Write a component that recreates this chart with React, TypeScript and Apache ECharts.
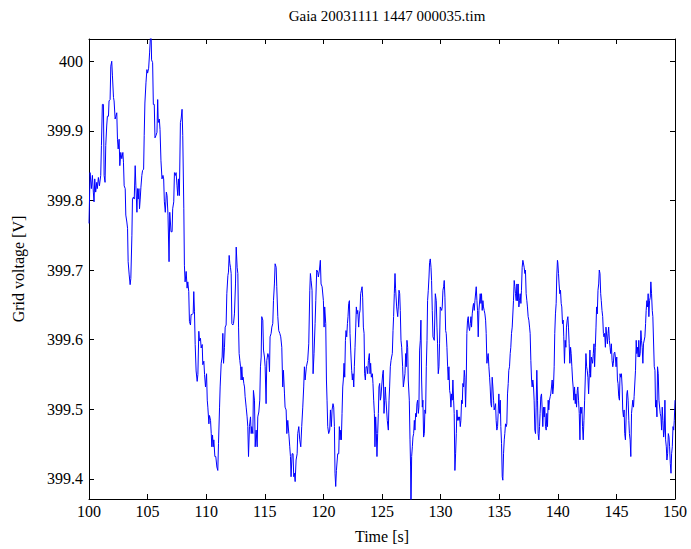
import React, { useEffect, useRef } from "react";
import * as echarts from "echarts";

const titleText = "Gaia 20031111 1447 000035.tim";
const xName = "Time [s]";
const yName = "Grid voltage [V]";
const xTicks = [100, 105, 110, 115, 120, 125, 130, 135, 140, 145, 150];
const yTicks = [399.4, 399.5, 399.6, 399.7, 399.8, 399.9, 400];

const seg100to110: number[][] = [
  [100.00, 399.767], [100.09, 399.840], [100.20, 399.817], [100.29, 399.836], [100.37, 399.812], [100.43, 399.798],
  [100.49, 399.831], [100.57, 399.812], [100.66, 399.826], [100.71, 399.817], [100.80, 399.833], [100.89, 399.821],
  [101.00, 399.836], [101.06, 399.879], [101.14, 399.938], [101.23, 399.938], [101.29, 399.836], [101.37, 399.826],
  [101.43, 399.879], [101.51, 399.907], [101.57, 399.921], [101.66, 399.921], [101.71, 399.943], [101.80, 399.945],
  [101.86, 399.993], [101.94, 400.000], [102.00, 399.979], [102.09, 399.948], [102.14, 399.943], [102.23, 399.917],
  [102.29, 399.921], [102.37, 399.926], [102.43, 399.888], [102.49, 399.874], [102.57, 399.888], [102.63, 399.850],
  [102.71, 399.869], [102.80, 399.860], [102.89, 399.869], [102.94, 399.855], [103.00, 399.821], [103.09, 399.817],
  [103.14, 399.779], [103.23, 399.769], [103.29, 399.760], [103.34, 399.712], [103.43, 399.693], [103.51, 399.679],
  [103.57, 399.688], [103.66, 399.750], [103.71, 399.802], [103.80, 399.805], [103.86, 399.802], [103.94, 399.850],
  [104.00, 399.821], [104.09, 399.783], [104.14, 399.817], [104.20, 399.802], [104.26, 399.817], [104.31, 399.788],
  [104.37, 399.802], [104.43, 399.819], [104.51, 399.836], [104.57, 399.843], [104.66, 399.845], [104.71, 399.893],
  [104.77, 399.940], [104.86, 399.969], [104.94, 399.988], [105.00, 399.983], [105.09, 399.990], [105.17, 400.012],
  [105.23, 400.031], [105.29, 400.050], [105.34, 400.002], [105.43, 399.998], [105.49, 399.938], [105.57, 399.938],
  [105.63, 399.890], [105.71, 399.893], [105.80, 399.898], [105.86, 399.945], [105.91, 399.912], [106.00, 399.917],
  [106.06, 399.902], [106.14, 399.857], [106.23, 399.831], [106.31, 399.836], [106.37, 399.831], [106.43, 399.798],
  [106.51, 399.783], [106.60, 399.812], [106.66, 399.807], [106.74, 399.779], [106.83, 399.712], [106.89, 399.783],
  [107.00, 399.755], [107.09, 399.755], [107.14, 399.788], [107.23, 399.798], [107.29, 399.840], [107.37, 399.836],
  [107.43, 399.840], [107.51, 399.821], [107.57, 399.807], [107.63, 399.831], [107.71, 399.807], [107.80, 399.912],
  [107.86, 399.917], [107.94, 399.931], [108.00, 399.893], [108.09, 399.788], [108.14, 399.707], [108.20, 399.683],
  [108.29, 399.698], [108.37, 399.674], [108.43, 399.683], [108.51, 399.669], [108.57, 399.626], [108.66, 399.621],
  [108.71, 399.636], [108.80, 399.636], [108.89, 399.638], [108.94, 399.669], [109.00, 399.640], [109.06, 399.593],
  [109.14, 399.555], [109.23, 399.540], [109.29, 399.550], [109.37, 399.612], [109.43, 399.598], [109.51, 399.602],
  [109.57, 399.588], [109.66, 399.593], [109.71, 399.564], [109.80, 399.569], [109.86, 399.550],
  [109.94, 399.532], [110.03, 399.551], [110.09, 399.513], [110.14, 399.503], [110.23, 399.479], [110.28, 399.491],
  [110.37, 399.484], [110.43, 399.465], [110.48, 399.446], [110.54, 399.463], [110.60, 399.446], [110.65, 399.456],
  [110.74, 399.432], [110.82, 399.432], [110.91, 399.417], [110.99, 399.412],
];

const seg111to120: number[][] = [
  [111.05, 399.451], [111.14, 399.503], [111.19, 399.532], [111.28, 399.566], [111.36, 399.575], [111.42, 399.609],
  [111.48, 399.566], [111.56, 399.589], [111.62, 399.618], [111.70, 399.621], [111.76, 399.666], [111.85, 399.692],
  [111.90, 399.697], [111.96, 399.721], [112.02, 399.709], [112.07, 399.704], [112.13, 399.695], [112.19, 399.623],
  [112.27, 399.621], [112.33, 399.623], [112.41, 399.637], [112.50, 399.680], [112.56, 399.733], [112.64, 399.704],
  [112.70, 399.695], [112.76, 399.618], [112.81, 399.580], [112.87, 399.570], [112.93, 399.561], [112.98, 399.542],
  [113.04, 399.561], [113.10, 399.542], [113.15, 399.546], [113.21, 399.537], [113.27, 399.532], [113.32, 399.518],
  [113.41, 399.503], [113.49, 399.489], [113.55, 399.475], [113.61, 399.432], [113.69, 399.475], [113.78, 399.489],
  [113.84, 399.465], [113.89, 399.475], [113.98, 399.465], [114.03, 399.527], [114.12, 399.513], [114.18, 399.446],
  [114.26, 399.470], [114.35, 399.446], [114.40, 399.489], [114.49, 399.496], [114.57, 399.513], [114.63, 399.561],
  [114.69, 399.575], [114.74, 399.633], [114.83, 399.628], [114.89, 399.585], [114.97, 399.575], [115.03, 399.561],
  [115.11, 399.508], [115.17, 399.570], [115.26, 399.580], [115.34, 399.575], [115.40, 399.554], [115.45, 399.604],
  [115.54, 399.609], [115.60, 399.618], [115.68, 399.623], [115.74, 399.656], [115.82, 399.680], [115.88, 399.709],
  [115.97, 399.704], [116.02, 399.676], [116.11, 399.633], [116.19, 399.613], [116.28, 399.609], [116.36, 399.604],
  [116.45, 399.589], [116.53, 399.532], [116.59, 399.556], [116.68, 399.522], [116.73, 399.503], [116.82, 399.499],
  [116.88, 399.465], [116.96, 399.484], [117.05, 399.465], [117.13, 399.446], [117.19, 399.432], [117.24, 399.403],
  [117.33, 399.436], [117.41, 399.436], [117.47, 399.403], [117.53, 399.408], [117.59, 399.396], [117.67, 399.427],
  [117.76, 399.436], [117.81, 399.465], [117.90, 399.475], [117.98, 399.456], [118.07, 399.446], [118.15, 399.475],
  [118.24, 399.503], [118.32, 399.532], [118.38, 399.561], [118.44, 399.542], [118.49, 399.542], [118.55, 399.561],
  [118.66, 399.570], [118.75, 399.594], [118.84, 399.671], [118.89, 399.695], [118.95, 399.685], [119.03, 399.671],
  [119.12, 399.551], [119.20, 399.580], [119.29, 399.623], [119.35, 399.656], [119.43, 399.700], [119.52, 399.697],
  [119.57, 399.690], [119.66, 399.700], [119.74, 399.714], [119.80, 399.680], [119.89, 399.676],
];

const seg120to130: number[][] = [
  [120.00, 399.656], [120.06, 399.618], [120.11, 399.647], [120.20, 399.623], [120.26, 399.542], [120.31, 399.513],
  [120.37, 399.475], [120.45, 399.465], [120.54, 399.470], [120.60, 399.499], [120.68, 399.475], [120.74, 399.499],
  [120.82, 399.508], [120.88, 399.503], [120.94, 399.475], [120.99, 399.408], [121.05, 399.389], [121.11, 399.412],
  [121.16, 399.412], [121.22, 399.436], [121.31, 399.436], [121.36, 399.475], [121.42, 399.456], [121.48, 399.470],
  [121.53, 399.456], [121.59, 399.494], [121.65, 399.532], [121.70, 399.542], [121.76, 399.566], [121.82, 399.546],
  [121.88, 399.599], [121.93, 399.613], [121.99, 399.604], [122.05, 399.623], [122.10, 399.633], [122.16, 399.652],
  [122.22, 399.656], [122.27, 399.609], [122.33, 399.585], [122.41, 399.556], [122.47, 399.542], [122.53, 399.551],
  [122.59, 399.532], [122.64, 399.561], [122.70, 399.589], [122.76, 399.618], [122.81, 399.647], [122.87, 399.637],
  [122.93, 399.642], [123.01, 399.618], [123.07, 399.637], [123.13, 399.642], [123.18, 399.666], [123.24, 399.671],
  [123.30, 399.676], [123.35, 399.661], [123.41, 399.618], [123.47, 399.609], [123.52, 399.551], [123.58, 399.542],
  [123.64, 399.561], [123.72, 399.561], [123.78, 399.551], [123.84, 399.570], [123.92, 399.580], [123.98, 399.551],
  [124.03, 399.566], [124.09, 399.546], [124.18, 399.551], [124.23, 399.537], [124.29, 399.513], [124.35, 399.494],
  [124.40, 399.446], [124.46, 399.489], [124.52, 399.465], [124.57, 399.432], [124.63, 399.465], [124.69, 399.494],
  [124.74, 399.532], [124.80, 399.537], [124.86, 399.513], [124.91, 399.518], [124.97, 399.532], [125.06, 399.551],
  [125.11, 399.556], [125.17, 399.494], [125.23, 399.513], [125.28, 399.532], [125.34, 399.513], [125.40, 399.513],
  [125.45, 399.484], [125.54, 399.470], [125.60, 399.513], [125.65, 399.532], [125.71, 399.561], [125.77, 399.570],
  [125.82, 399.575], [125.88, 399.580], [125.94, 399.613], [125.99, 399.633], [126.05, 399.666], [126.11, 399.695],
  [126.16, 399.673], [126.25, 399.647], [126.34, 399.633], [126.39, 399.647], [126.45, 399.671], [126.51, 399.666],
  [126.56, 399.642], [126.62, 399.599], [126.68, 399.589], [126.76, 399.561], [126.82, 399.532], [126.88, 399.532],
  [126.96, 399.551], [127.02, 399.580], [127.07, 399.561], [127.13, 399.599], [127.19, 399.589], [127.24, 399.542],
  [127.33, 399.513], [127.39, 399.456], [127.44, 399.417], [127.47, 399.350], [127.53, 399.432], [127.59, 399.446],
  [127.64, 399.460], [127.70, 399.465], [127.76, 399.484], [127.81, 399.470], [127.87, 399.494], [127.93, 399.489],
  [127.98, 399.508], [128.04, 399.513], [128.10, 399.494], [128.15, 399.503], [128.21, 399.585], [128.27, 399.599],
  [128.32, 399.628], [128.38, 399.542], [128.44, 399.503], [128.49, 399.513], [128.55, 399.460], [128.61, 399.465],
  [128.66, 399.499], [128.72, 399.494], [128.78, 399.561], [128.84, 399.599], [128.89, 399.656], [128.95, 399.671],
  [129.01, 399.690], [129.06, 399.711], [129.12, 399.716], [129.18, 399.704], [129.23, 399.685], [129.29, 399.642],
  [129.35, 399.604], [129.40, 399.604], [129.46, 399.599], [129.55, 399.666], [129.63, 399.656], [129.69, 399.618],
  [129.74, 399.594], [129.80, 399.551], [129.86, 399.561], [129.91, 399.594], [129.97, 399.647],
];

const seg130to140: number[][] = [
  [130.03, 399.647], [130.09, 399.642], [130.14, 399.647], [130.20, 399.671], [130.26, 399.676], [130.31, 399.685],
  [130.37, 399.661], [130.43, 399.613], [130.48, 399.609], [130.54, 399.589], [130.60, 399.561], [130.65, 399.542],
  [130.71, 399.561], [130.77, 399.527], [130.82, 399.522], [130.88, 399.503], [130.94, 399.522], [130.99, 399.513],
  [131.05, 399.542], [131.11, 399.513], [131.16, 399.494], [131.22, 399.412], [131.28, 399.436], [131.34, 399.465],
  [131.39, 399.499], [131.45, 399.484], [131.51, 399.489], [131.56, 399.484], [131.62, 399.489], [131.68, 399.475],
  [131.73, 399.484], [131.79, 399.513], [131.85, 399.508], [131.90, 399.537], [131.96, 399.532], [132.02, 399.556],
  [132.07, 399.546], [132.13, 399.503], [132.19, 399.542], [132.24, 399.609], [132.30, 399.628], [132.36, 399.633],
  [132.41, 399.618], [132.47, 399.613], [132.53, 399.623], [132.59, 399.633], [132.64, 399.618], [132.70, 399.637],
  [132.76, 399.647], [132.81, 399.652], [132.87, 399.642], [132.93, 399.656], [132.98, 399.656], [133.04, 399.676],
  [133.10, 399.656], [133.15, 399.642], [133.21, 399.604], [133.27, 399.642], [133.32, 399.642], [133.38, 399.666],
  [133.44, 399.652], [133.49, 399.666], [133.55, 399.642], [133.61, 399.656], [133.66, 399.647], [133.72, 399.642],
  [133.78, 399.637], [133.84, 399.628], [133.89, 399.609], [133.95, 399.566], [134.01, 399.575], [134.06, 399.580],
  [134.12, 399.561], [134.18, 399.546], [134.23, 399.532], [134.29, 399.508], [134.35, 399.503], [134.40, 399.546],
  [134.46, 399.532], [134.52, 399.513], [134.57, 399.499], [134.63, 399.503], [134.69, 399.508], [134.74, 399.484],
  [134.80, 399.470], [134.86, 399.475], [134.91, 399.494], [134.97, 399.522], [135.03, 399.494], [135.09, 399.513],
  [135.14, 399.475], [135.20, 399.451], [135.26, 399.403], [135.31, 399.398], [135.37, 399.436], [135.43, 399.456],
  [135.48, 399.465], [135.54, 399.479], [135.60, 399.475], [135.65, 399.479], [135.71, 399.522], [135.77, 399.537],
  [135.82, 399.556], [135.88, 399.561], [135.94, 399.580], [135.99, 399.589], [136.05, 399.609], [136.11, 399.618],
  [136.16, 399.618], [136.22, 399.656], [136.28, 399.685], [136.34, 399.676], [136.39, 399.666], [136.45, 399.656],
  [136.51, 399.680], [136.56, 399.656], [136.62, 399.680], [136.68, 399.647], [136.73, 399.656], [136.79, 399.666],
  [136.85, 399.652], [136.90, 399.671], [136.96, 399.704], [137.02, 399.714], [137.07, 399.714], [137.13, 399.704],
  [137.19, 399.695], [137.24, 399.700], [137.30, 399.666], [137.36, 399.656], [137.41, 399.647], [137.47, 399.633],
  [137.53, 399.628], [137.59, 399.618], [137.64, 399.609], [137.70, 399.570], [137.76, 399.542], [137.81, 399.532],
  [137.87, 399.542], [137.93, 399.532], [137.98, 399.513], [138.04, 399.470], [138.10, 399.465], [138.15, 399.503],
  [138.21, 399.556], [138.27, 399.513], [138.32, 399.465], [138.38, 399.456], [138.44, 399.475], [138.49, 399.494],
  [138.55, 399.518], [138.61, 399.522], [138.66, 399.503], [138.72, 399.475], [138.78, 399.503], [138.84, 399.489],
  [138.89, 399.503], [138.95, 399.475], [139.01, 399.470], [139.06, 399.494], [139.12, 399.475], [139.18, 399.513],
  [139.23, 399.499], [139.29, 399.513], [139.35, 399.518], [139.40, 399.522], [139.46, 399.532], [139.52, 399.542],
  [139.57, 399.522], [139.63, 399.532], [139.69, 399.561], [139.74, 399.609], [139.80, 399.637], [139.86, 399.652],
  [139.91, 399.690], [139.97, 399.714],
];

const seg140to150: number[][] = [
  [140.00, 399.711], [140.06, 399.695], [140.11, 399.680], [140.17, 399.666], [140.23, 399.671], [140.29, 399.652],
  [140.34, 399.647], [140.40, 399.623], [140.46, 399.628], [140.51, 399.604], [140.57, 399.566], [140.63, 399.599],
  [140.69, 399.589], [140.74, 399.618], [140.80, 399.628], [140.86, 399.633], [140.91, 399.618], [140.97, 399.594],
  [141.03, 399.566], [141.09, 399.589], [141.14, 399.580], [141.20, 399.561], [141.26, 399.542], [141.31, 399.532],
  [141.37, 399.513], [141.43, 399.532], [141.49, 399.508], [141.54, 399.522], [141.60, 399.503], [141.66, 399.527],
  [141.71, 399.532], [141.77, 399.513], [141.83, 399.494], [141.89, 399.456], [141.94, 399.503], [142.00, 399.494],
  [142.06, 399.503], [142.11, 399.475], [142.17, 399.456], [142.23, 399.484], [142.29, 399.513], [142.34, 399.542],
  [142.40, 399.580], [142.46, 399.561], [142.51, 399.556], [142.57, 399.546], [142.63, 399.522], [142.69, 399.551],
  [142.74, 399.585], [142.80, 399.546], [142.86, 399.575], [142.91, 399.575], [142.97, 399.566], [143.03, 399.580],
  [143.09, 399.594], [143.14, 399.561], [143.20, 399.589], [143.26, 399.618], [143.31, 399.647], [143.37, 399.637],
  [143.43, 399.671], [143.49, 399.680], [143.54, 399.700], [143.60, 399.695], [143.66, 399.666], [143.71, 399.656],
  [143.77, 399.642], [143.83, 399.633], [143.89, 399.609], [143.94, 399.604], [144.00, 399.609], [144.06, 399.589],
  [144.11, 399.618], [144.17, 399.618], [144.23, 399.594], [144.29, 399.609], [144.34, 399.618], [144.40, 399.599],
  [144.46, 399.589], [144.51, 399.580], [144.57, 399.594], [144.63, 399.570], [144.69, 399.561], [144.74, 399.566],
  [144.80, 399.580], [144.86, 399.582], [144.91, 399.575], [144.97, 399.561], [145.03, 399.575], [145.09, 399.542],
  [145.14, 399.537], [145.20, 399.518], [145.26, 399.513], [145.31, 399.551], [145.37, 399.546], [145.43, 399.551],
  [145.49, 399.532], [145.54, 399.499], [145.60, 399.489], [145.66, 399.499], [145.71, 399.465], [145.77, 399.456],
  [145.83, 399.489], [145.89, 399.522], [145.94, 399.527], [146.00, 399.513], [146.06, 399.484], [146.11, 399.465],
  [146.17, 399.456], [146.23, 399.432], [146.29, 399.494], [146.34, 399.503], [146.40, 399.513], [146.46, 399.503],
  [146.51, 399.518], [146.57, 399.518], [146.63, 399.556], [146.69, 399.599], [146.74, 399.580], [146.80, 399.589],
  [146.86, 399.575], [146.91, 399.599], [146.97, 399.575], [147.03, 399.580], [147.09, 399.613], [147.14, 399.599],
  [147.20, 399.589], [147.26, 399.566], [147.31, 399.594], [147.37, 399.594], [147.43, 399.604], [147.49, 399.623],
  [147.54, 399.642], [147.60, 399.656], [147.66, 399.647], [147.71, 399.666], [147.77, 399.633], [147.83, 399.656],
  [147.89, 399.661], [147.94, 399.683], [148.00, 399.666], [148.06, 399.642], [148.11, 399.633], [148.17, 399.633],
  [148.23, 399.561], [148.29, 399.556], [148.34, 399.503], [148.40, 399.513], [148.46, 399.489], [148.51, 399.561],
  [148.57, 399.551], [148.63, 399.513], [148.69, 399.513], [148.74, 399.494], [148.80, 399.489], [148.86, 399.470],
  [148.91, 399.503], [148.97, 399.484], [149.03, 399.460], [149.09, 399.470], [149.14, 399.513], [149.20, 399.456],
  [149.26, 399.446], [149.31, 399.427], [149.37, 399.436], [149.43, 399.465], [149.49, 399.460], [149.54, 399.446],
  [149.60, 399.422], [149.66, 399.408], [149.71, 399.436], [149.77, 399.446], [149.83, 399.475], [149.89, 399.470],
  [149.94, 399.484], [150.00, 399.513],
];

const X_MIN = 100;
const X_MAX = 150;
const Y_MIN = 399.371;
const Y_MAX = 400.032;

const FONT = "'Liberation Serif', 'Times New Roman', serif";

export default function App() {
  const ref = useRef<HTMLDivElement>(null);

  useEffect(() => {
    if (!ref.current) return;
    const chart = echarts.init(ref.current, null, { renderer: "svg" });
    const data = [...seg100to110, ...seg111to120, ...seg120to130, ...seg130to140, ...seg140to150];
    const axisLineStyle = { color: "#000", width: 1 };
    const tickStyle = { show: true, inside: true, length: 5, lineStyle: { color: "#000", width: 1 } };

    chart.setOption({
      animation: false,
      backgroundColor: "#fff",
      title: {
        text: titleText,
        left: 382,
        top: 3,
        textAlign: "center",
        textStyle: { fontFamily: FONT, fontSize: 15, fontWeight: "normal", color: "#000" },
      },
      grid: { left: 89, right: 16, top: 39, bottom: 48, containLabel: false },
      xAxis: [
        {
          type: "value",
          min: X_MIN,
          max: X_MAX,
          position: "bottom",
          name: xName,
          nameLocation: "middle",
          nameGap: 29,
          nameTextStyle: { fontFamily: FONT, fontSize: 16, color: "#000" },
          axisLine: { show: true, onZero: false, lineStyle: axisLineStyle },
          axisTick: { ...tickStyle, customValues: xTicks },
          axisLabel: { customValues: xTicks, fontFamily: FONT, fontSize: 16, color: "#000", margin: 4 },
          splitLine: { show: false },
        },
        {
          type: "value",
          min: X_MIN,
          max: X_MAX,
          position: "top",
          axisLine: { show: true, onZero: false, lineStyle: axisLineStyle },
          axisTick: { ...tickStyle, customValues: xTicks },
          axisLabel: { show: false },
          splitLine: { show: false },
        },
      ],
      yAxis: [
        {
          type: "value",
          min: Y_MIN,
          max: Y_MAX,
          position: "left",
          name: yName,
          nameLocation: "middle",
          nameGap: 63,
          nameRotate: 90,
          nameTextStyle: { fontFamily: FONT, fontSize: 16, color: "#000" },
          axisLine: { show: true, onZero: false, lineStyle: axisLineStyle },
          axisTick: { ...tickStyle, customValues: yTicks },
          axisLabel: {
            customValues: yTicks,
            fontFamily: FONT,
            fontSize: 16,
            color: "#000",
            margin: 6,
            formatter: (v: number) => String(Math.round(v * 10) / 10),
          },
          splitLine: { show: false },
        },
        {
          type: "value",
          min: Y_MIN,
          max: Y_MAX,
          position: "right",
          axisLine: { show: true, onZero: false, lineStyle: axisLineStyle },
          axisTick: { ...tickStyle, customValues: yTicks },
          axisLabel: { show: false },
          splitLine: { show: false },
        },
      ],
      series: [
        {
          type: "line",
          xAxisIndex: 0,
          yAxisIndex: 0,
          data,
          showSymbol: false,
          symbol: "none",
          clip: true,
          lineStyle: { color: "#0000ff", width: 1 },
        },
      ],
    });

    return () => chart.dispose();
  }, []);

  return <div ref={ref} style={{ position: "fixed", left: 0, top: 0, width: 691, height: 549 }} />;
}
